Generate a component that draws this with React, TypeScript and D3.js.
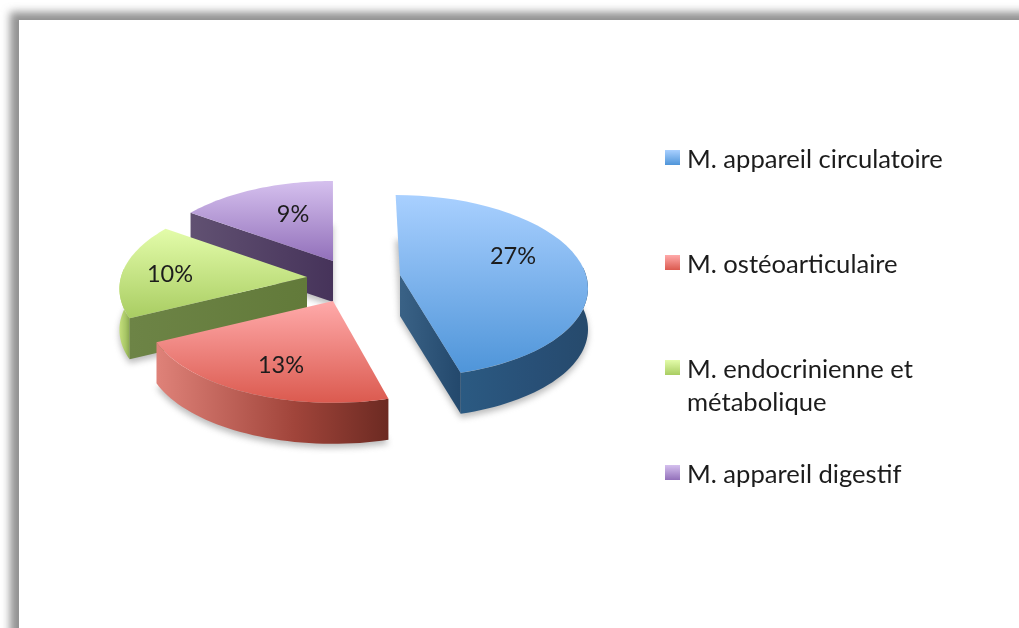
import React from "react";
import * as d3 from "d3";

const categories = ["M. appareil circulatoire", "M. ostéoarticulaire", "M. endocrinienne et|métabolique", "M. appareil digestif"];
const values = [27, 13, 10, 9];
const labels = ["27%", "13%", "10%", "9%"];
const topLight = ["#a9d0ff", "#ffaaaa", "#e3fcaa", "#d5c0ee"];
const topDark = ["#4f95d9", "#db5a4f", "#a9cd62", "#9270ba"];
const rimLeft = ["#2b5a82", "#df8279", "#c5e07c", "#5e4d6f"];
const rimMid = ["#284f76", "#a0443a", "#a8c666", "#50405f"];
const rimRight = ["#264a6c", "#6c2a22", "#8aa850", "#473358"];
const edgeLeft = ["#3a6286", "#b04a42", "#6d8446", "#615172"];
const edgeRight = ["#23486c", "#6c2a22", "#627a3a", "#46335a"];

const W = 1019, H = 628;
const CX = 332, CY = 280, R = 186, RK = 89.6, PERSP = 0.12, DEPTH = 41, LEAN = 0.6;
const explodeX = [68, 1, -25, 1];
const explodeY = [-5, 21, -3, -19];
const labelPos = [[513, 256], [281, 365], [170, 274], [293, 214]];
const legendY = [150, 255, 360, 465];
const legendBase = [[168], [273], [378, 411], [483]];

const project = (t: number, r = 1, ex = 0) => {
  const u = Math.sin(t) * r, v = -Math.cos(t) * r;
  const f = 1 / (1 - PERSP * v);
  return [R * u * f + ex * LEAN * (f - 1), RK * v * f];
};

const pieGen = d3.pie<number>().sort(null).startAngle(0).endAngle(2 * Math.PI);
const arcs = pieGen(values);
const lineGen = d3.line();

const arcPts = (a: number, b: number, ex: number) => d3.range(0, 41).map((i) => project(a + ((b - a) * i) / 40, 1, ex));

const slices = arcs.map((arc, i) => {
  const ex = explodeX[i];
  const ox = CX + ex, oy = CY + explodeY[i];
  const rim = arcPts(arc.startAngle, arc.endAngle, ex).map(([x, y]) => [x + ox, y + oy] as [number, number]);
  const top = lineGen([[ox, oy], ...rim])! + "Z";

  const a = Math.max(arc.startAngle, Math.PI * 0.47), b = Math.min(arc.endAngle, Math.PI * 1.53);
  let rimSide: string | null = null;
  if (b > a) {
    const pts = arcPts(a, b, ex).map(([x, y]) => [x + ox, y + oy] as [number, number]);
    const low = [...pts].reverse().map(([x, y]) => [x, y + DEPTH] as [number, number]);
    rimSide = lineGen([...pts, ...low])! + "Z";
  }

  const m = project((arc.startAngle + arc.endAngle) / 2, 0.5, ex);
  const edges: string[] = [];
  for (const ang of [arc.startAngle, arc.endAngle]) {
    const e = project(ang, 1, ex);
    if (Math.abs(e[0]) < 12) continue;
    if (m[1] < (e[1] / e[0]) * m[0]) {
      const p: [number, number] = [ox + e[0], oy + e[1]];
      edges.push(lineGen([[ox, oy], p, [p[0], p[1] + DEPTH], [ox, oy + DEPTH]])! + "Z");
    }
  }
  const silhouette = lineGen([[ox, oy + DEPTH], ...rim.map(([x, y]) => [x, y + DEPTH] as [number, number])])! + "Z";
  return { i, top, rimSide, edges, silhouette };
});

const order = [3, 2, 0, 1];
const font = "Lato, 'Open Sans', sans-serif";

export default function App() {
  return (
    <svg width={W} height={H} viewBox={`0 0 ${W} ${H}`} style={{ position: "absolute", left: 0, top: 0 }}>
      <defs>
        <filter id="frame" x="-5%" y="-5%" width="110%" height="110%">
          <feGaussianBlur stdDeviation="4" />
        </filter>
        <filter id="soft" x="-20%" y="-20%" width="140%" height="140%">
          <feGaussianBlur stdDeviation="3" />
        </filter>
        <filter id="txt" x="-5%" y="-20%" width="110%" height="140%">
          <feGaussianBlur stdDeviation="0.45" />
        </filter>
        {values.map((_, i) => (
          <React.Fragment key={i}>
            <linearGradient id={`top${i}`} x1="0" y1="0" x2="0" y2="1">
              <stop offset="0" stopColor={topLight[i]} />
              <stop offset="1" stopColor={topDark[i]} />
            </linearGradient>
            <linearGradient id={`rim${i}`} x1="0" y1="0" x2="1" y2="0">
              <stop offset="0" stopColor={rimLeft[i]} />
              <stop offset="0.6" stopColor={rimMid[i]} />
              <stop offset="1" stopColor={rimRight[i]} />
            </linearGradient>
            <linearGradient id={`edge${i}`} x1="0" y1="0" x2="1" y2="0">
              <stop offset="0" stopColor={edgeLeft[i]} />
              <stop offset="1" stopColor={edgeRight[i]} />
            </linearGradient>
          </React.Fragment>
        ))}
      </defs>

      <rect x={0} y={0} width={W} height={H} fill="#fff" />
      <rect x={10} y={12} width={W + 40} height={H + 40} fill="#929292" filter="url(#frame)" />
      <rect x={19} y={20} width={W} height={H} fill="#fff" />

      <g filter="url(#soft)" opacity={0.5}>
        {slices.map((s) => (
          <path key={s.i} d={s.silhouette} fill="#777" transform="translate(0,4)" />
        ))}
      </g>

      {order.map((i) => {
        const s = slices[i];
        return (
          <g key={i}>
            {s.rimSide && <path d={s.rimSide} fill={`url(#rim${i})`} />}
            {s.edges.map((d, k) => (
              <path key={k} d={d} fill={`url(#edge${i})`} />
            ))}
            <path d={s.top} fill={`url(#top${i})`} />
          </g>
        );
      })}

      <g filter="url(#txt)" fontFamily={font} fill="#1c1c1c">
        {labels.map((t, i) => (
          <text key={t} x={labelPos[i][0]} y={labelPos[i][1] + 8} textAnchor="middle" fontSize={23.5}>
            {t}
          </text>
        ))}
        {categories.map((c, i) =>
          c.split("|").map((line, k) => (
            <text key={k} x={687} y={legendBase[i][k]} fontSize={25.6} fontFamily={font}>
              {line}
            </text>
          ))
        )}
      </g>

      {categories.map((c, i) => (
        <rect key={c} x={665} y={legendY[i]} width={15} height={15} fill={`url(#top${i})`} />
      ))}
    </svg>
  );
}
